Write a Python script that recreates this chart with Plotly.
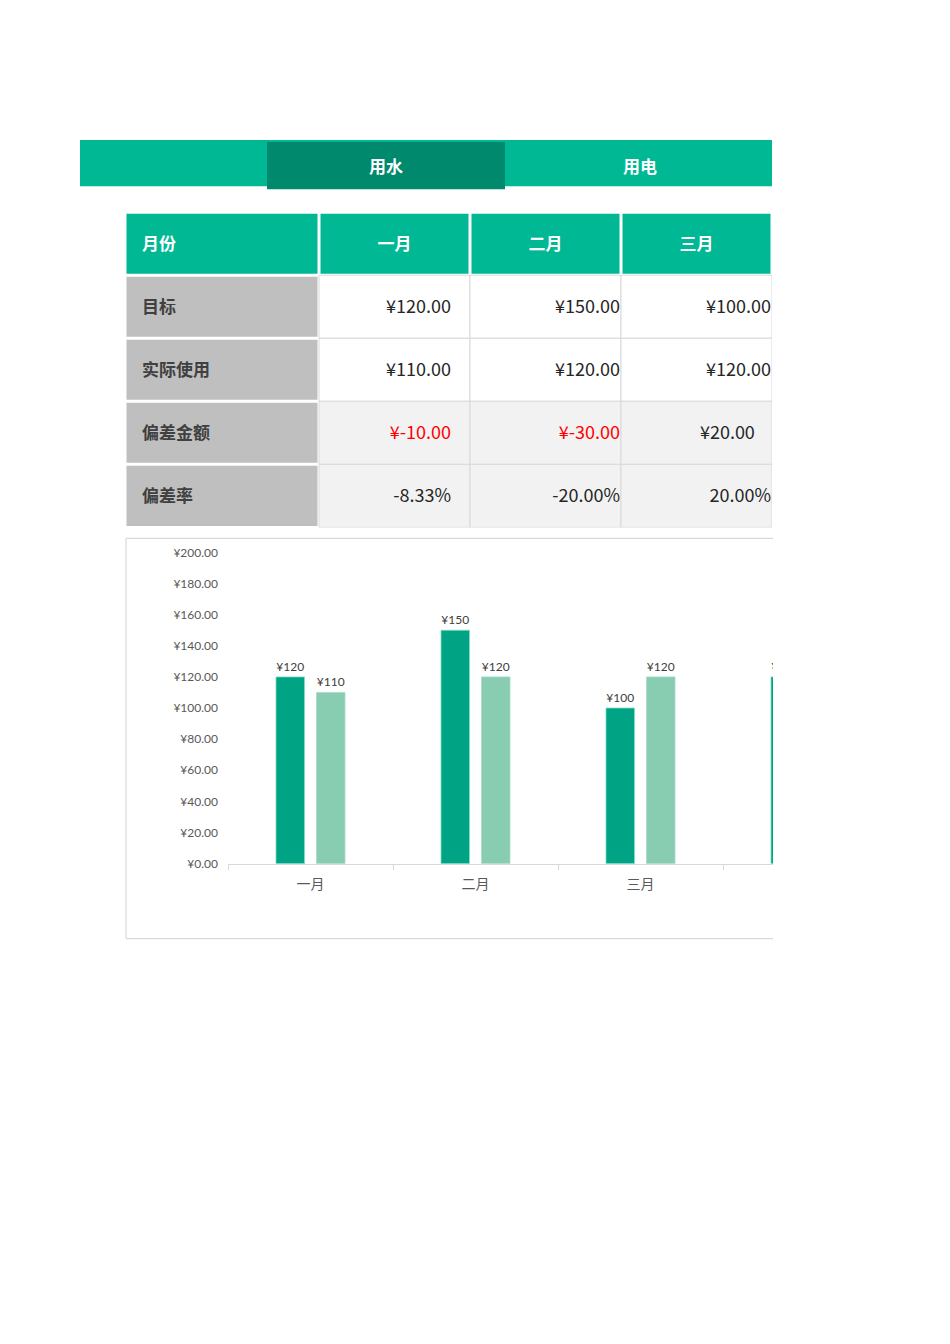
import plotly.graph_objects as go

# 数据
months = ['一月', '二月', '三月', '四月']
row_labels = ['目标', '实际使用', '偏差金额', '偏差率']
target = [120, 150, 100, 120]
actual = [110, 120, 120, None]
diff_amount = [-10, -30, 20]
diff_rate = ['-8.33%', '-20.00%', '20.00%']
tabs = ['用水', '用电']

# 页面 950x1344, 扣除页面边距 (纸面实际从 16px 开始, 高 1312px)
OFF_X = 8
W, H = 934, 1328
PAPER_TOP, PAPER_H = 16, 1312
TEAL = '#00B894'
TEAL_DARK = '#00896D'
BAR1 = '#00A383'
BAR2 = '#88CCB2'
CJK = 'Noto Sans CJK SC'


def px(x):
    return (x - OFF_X) / W


def py(y):
    return 1 - (y - PAPER_TOP) / PAPER_H


def yen(v):
    return '' if v is None else '¥%d' % v


fig = go.Figure()

# 柱状图
fig.add_trace(go.Bar(x=months, y=target, name='目标', marker=dict(color=BAR1, line=dict(color='#7FE0C8', width=0.8)),
                     text=[yen(v) for v in target], textposition='outside', cliponaxis=True,
                     textfont=dict(family='Lato', size=12, color='#404040'), hoverinfo='x+y'))
fig.add_trace(go.Bar(x=months, y=actual, name='实际使用', marker=dict(color=BAR2, line=dict(color='#A8DCC8', width=0.8)),
                     text=[yen(v) for v in actual], textposition='outside', cliponaxis=True,
                     textfont=dict(family='Lato', size=12, color='#404040'), hoverinfo='x+y'))

# 表格 (x2/y2 以像素为单位)
col_w = [194, 151, 151, 151]
row_h = 63
col_edges = [0]
for w in col_w:
    col_edges.append(col_edges[-1] + w)
n_rows = 1 + len(row_labels)
table_h = row_h * n_rows

shapes = []
tx, ty, tt, tpos, tcol, tsize = [], [], [], [], [], []


def money(v):
    return '¥%.2f' % v


body = [
    [money(v) for v in target[:3]],
    [money(v) for v in actual[:3]],
    [money(v) for v in diff_amount],
    diff_rate,
]
right_inset = [19, 1, 1]

for r in range(n_rows):
    y0, y1 = r * row_h, (r + 1) * row_h
    yc = (y0 + y1) / 2 + 2
    for c in range(4):
        x0, x1 = col_edges[c], col_edges[c + 1]
        if r == 0 or c == 0:
            fill = TEAL if r == 0 else '#BFBFBF'
            shapes.append(dict(type='rect', xref='x2', yref='y2', x0=x0 + 1.5, x1=x1 - 1.5, y0=y0 + 1.5, y1=y1 - 1.5,
                               fillcolor=fill, line=dict(width=0), layer='below'))
        else:
            fill = 'white' if r <= 2 else '#F2F2F2'
            shapes.append(dict(type='rect', xref='x2', yref='y2', x0=x0, x1=x1, y0=y0, y1=y1,
                               fillcolor=fill, line=dict(color='#D9D9D9', width=1), layer='below'))
        # 文字
        if r == 0:
            label = '<b>月份</b>' if c == 0 else '<b>%s</b>' % months[c - 1]
            color = 'white'
            size = 17
        elif c == 0:
            label = '<b>%s</b>' % row_labels[r - 1]
            color = '#404040'
            size = 17
        else:
            label = body[r - 1][c - 1]
            color = '#262626'
            size = 18
            if r == 3:
                if diff_amount[c - 1] < 0:
                    color = '#FF0000'
                else:
                    label = label + '\u00a0\u00a0\u00a0\u00a0'
        if c == 0:
            tx.append(x0 + 17)
            tpos.append('middle right')
        elif r == 0:
            tx.append((x0 + x1) / 2)
            tpos.append('middle center')
        else:
            tx.append(x1 - right_inset[c - 1])
            tpos.append('middle left')
        ty.append(yc)
        tt.append(label)
        tcol.append(color)
        tsize.append(size)

fig.add_trace(go.Scatter(x=tx, y=ty, text=tt, mode='text', textposition=tpos, xaxis='x2', yaxis='y2',
                         textfont=dict(family=CJK, size=tsize, color=tcol), hoverinfo='skip'))

# 标签页
shapes.append(dict(type='rect', xref='paper', yref='paper', x0=px(80), x1=px(772), y0=py(186), y1=py(140),
                   fillcolor=TEAL, line=dict(width=0)))
shapes.append(dict(type='rect', xref='paper', yref='paper', x0=px(267), x1=px(505), y0=py(189), y1=py(142),
                   fillcolor=TEAL_DARK, line=dict(width=0)))
annotations = [
    dict(text='<b>%s</b>' % tabs[0], x=px(386), y=py(165), xref='paper', yref='paper', showarrow=False,
         xanchor='center', yanchor='middle', font=dict(family=CJK, size=17, color='white')),
    dict(text='<b>%s</b>' % tabs[1], x=px(640), y=py(165), xref='paper', yref='paper', showarrow=False,
         xanchor='center', yanchor='middle', font=dict(family=CJK, size=17, color='white')),
]

# 图表边框
for a, b in [((126, 538), (773, 538)), ((126, 538), (126, 938)), ((126, 938), (773, 938))]:
    shapes.append(dict(type='line', xref='paper', yref='paper', x0=px(a[0]), y0=py(a[1]), x1=px(b[0]), y1=py(b[1]),
                       line=dict(color='#D9D9D9', width=1.2)))

fig.update_layout(
    width=W, height=H, margin=dict(l=0, r=0, t=0, b=0),
    paper_bgcolor='white', plot_bgcolor='white',
    showlegend=False, barmode='group', bargap=0.509, bargroupgap=0.296, uniformtext=dict(mode=False),
    shapes=shapes, annotations=annotations,
    xaxis=dict(domain=[px(228), px(773)], range=[-0.5, 2.803], showline=True, linecolor='#D9D9D9',
               ticks='outside', ticklen=5, tickcolor='#D9D9D9', tickson='boundaries', showgrid=False,
               tickfont=dict(family=CJK, size=14, color='#595959'), ticklabelstandoff=8, fixedrange=True),
    yaxis=dict(domain=[py(863), py(552)], range=[0, 200], dtick=20, tickprefix='¥', tickformat='.2f',
               showgrid=False, zeroline=False, showline=False, ticklabelstandoff=9,
               tickfont=dict(family='Lato', size=12, color='#595959'), fixedrange=True),
    xaxis2=dict(domain=[px(125), px(772)], range=[0, col_edges[-1]], visible=False, fixedrange=True),
    yaxis2=dict(domain=[py(212 + table_h), py(212)], range=[table_h, 0], visible=False, fixedrange=True),
)
fig.update_traces(constraintext='none', selector=dict(type='bar'))

fig.write_html("out.html")
